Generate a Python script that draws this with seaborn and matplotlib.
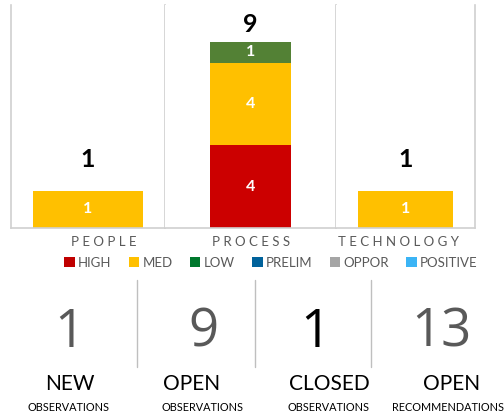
import seaborn as sns
import pandas as pd
import matplotlib.pyplot as plt
from matplotlib.patches import Patch
from matplotlib.lines import Line2D

# datos del grafico
categories = ["PEOPLE", "PROCESS", "TECHNOLOGY"]
high = [0, 4, 0]
med = [1, 4, 1]
low = [0, 1, 0]

legend_labels = ["HIGH", "MED", "LOW", "PRELIM", "OPPOR", "POSITIVE"]
legend_colors = ["#C00000", "#FFC000", "#00782D", "#00629B", "#A5A5A5", "#3BB4F5"]

kpi_values = [1, 9, 1, 13]
kpi_titles = ["NEW", "OPEN", "CLOSED", "OPEN"]
kpi_subtitles = ["OBSERVATIONS", "OBSERVATIONS", "OBSERVATIONS", "RECOMMENDATIONS"]

df = pd.DataFrame({"category": categories, "HIGH": high, "MED": med, "LOW": low})
df["total"] = df[["HIGH", "MED", "LOW"]].sum(axis=1)

sns.set_theme(style="white")
plt.rcParams["font.family"] = ["Lato", "DejaVu Sans"]

W, H = 504, 415
fig = plt.figure(figsize=(W / 100, H / 100), dpi=100)

seg_colors = {"HIGH": "#CC0000", "MED": "#FFC000", "LOW": "#538135"}
grid = "#D0D0D0"

# cada categoria tiene su propio panel (escala distinta)
panels = [(11, 165, 0.71, 6), (165, 336, 0.47, 10.8), (336, 475, 0.69, 6)]
label_x = [104, 251, 399]
top_y, base_y = 5, 228

for i, (x0, x1, bw, ymax) in enumerate(panels):
    ax = fig.add_axes([x0 / W, 1 - base_y / H, (x1 - x0) / W, (base_y - top_y) / H])
    row = df.iloc[[i]]
    levels = ["HIGH", "MED", "LOW"]
    cum = row[levels].cumsum(axis=1)
    # barras apiladas: dibujar de arriba hacia abajo
    for lev in reversed(levels):
        if row[lev].iloc[0] == 0:
            continue
        sns.barplot(x=row["category"], y=cum[lev], color=seg_colors[lev],
                    width=bw, saturation=1, linewidth=0, ax=ax)
    prev = 0
    for lev in levels:
        v = row[lev].iloc[0]
        if v:
            ax.text(0, prev + v / 2, str(v), ha="center", va="center",
                    color="white", fontsize=11.5, fontweight="bold")
        prev += v
    tot = row["total"].iloc[0]
    ax.text(0, tot + 0.84, str(tot), ha="center", va="center",
            color="black", fontsize=18, fontweight="bold")
    ax.set_xlim(-0.5, 0.5)
    ax.set_ylim(0, ymax)
    ax.set_xticks([])
    ax.set_yticks([])
    ax.set_xlabel("")
    ax.set_ylabel("")
    ax.spines["top"].set_visible(False)
    for s in ["left", "right", "bottom"]:
        ax.spines[s].set_color(grid)
        ax.spines[s].set_linewidth(1.2)
    if i > 0:
        ax.spines["left"].set_visible(False)
    fig.text(label_x[i] / W, 1 - 242 / H, " ".join(categories[i]), ha="center",
             va="center", color="#595959", fontsize=9.5)

handles = [Patch(facecolor=c, edgecolor="none") for c in legend_colors]
fig.legend(handles, legend_labels, loc="center", bbox_to_anchor=(271 / W, 1 - 263 / H),
           ncol=6, frameon=False, fontsize=9.5, handlelength=0.8, handleheight=0.8,
           handletextpad=0.25, columnspacing=1.3, labelcolor="#595959")

# indicadores inferiores
num_x = [69, 203, 315, 441]
title_x = [70, 192, 329, 452]
sub_x = [68, 203, 328, 448]
num_colors = ["#595959", "#595959", "black", "#595959"]
for i in range(4):
    fig.text(num_x[i] / W, 1 - 333 / H, str(kpi_values[i]), ha="center", va="center",
             fontsize=38, color=num_colors[i], fontfamily=["Open Sans", "DejaVu Sans"])
    fig.text(title_x[i] / W, 1 - 384 / H, kpi_titles[i], ha="center", va="center",
             fontsize=15, color="black")
    fig.text(sub_x[i] / W, 1 - 407 / H, kpi_subtitles[i], ha="center", va="center",
             fontsize=7.8, color="black")

for x in [137, 255, 371]:
    fig.add_artist(Line2D([x / W, x / W], [1 - 280 / H, 1 - 367 / H],
                          color="#BFBFBF", lw=1))

plt.savefig("out.png", dpi=100)
